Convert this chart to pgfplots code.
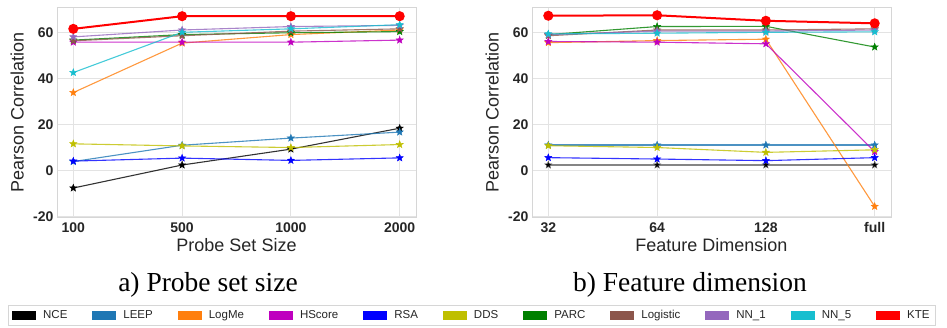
\documentclass[border=0pt]{standalone}
\usepackage{pgfplots}
\usepackage{pgfplotstable}
\pgfplotsset{compat=1.18}
\usepackage{fontspec}
\setmainfont{Liberation Sans}
\newfontfamily\capfont{Liberation Serif}

\definecolor{cNCE}{HTML}{000000}
\definecolor{cLEEP}{HTML}{1F77B4}
\definecolor{cLogMe}{HTML}{FF7F0E}
\definecolor{cHScore}{HTML}{BF00BF}
\definecolor{cRSA}{HTML}{0000FF}
\definecolor{cDDS}{HTML}{BFBF00}
\definecolor{cPARC}{HTML}{008000}
\definecolor{cLogistic}{HTML}{8C564B}
\definecolor{cNNa}{HTML}{9467BD}
\definecolor{cNNb}{HTML}{17BECF}
\definecolor{cKTE}{HTML}{FF0000}
\definecolor{gridc}{HTML}{E3E3E3}
\definecolor{framec}{HTML}{D6D6D6}
\definecolor{labc}{HTML}{262626}

\pgfdeclareplotmark{fstar}{%
  \pgfpathmoveto{\pgfpointpolar{90}{\pgfplotmarksize}}%
  \pgfpathlineto{\pgfpointpolar{126}{0.42\pgfplotmarksize}}%
  \pgfpathlineto{\pgfpointpolar{162}{\pgfplotmarksize}}%
  \pgfpathlineto{\pgfpointpolar{198}{0.42\pgfplotmarksize}}%
  \pgfpathlineto{\pgfpointpolar{234}{\pgfplotmarksize}}%
  \pgfpathlineto{\pgfpointpolar{270}{0.42\pgfplotmarksize}}%
  \pgfpathlineto{\pgfpointpolar{306}{\pgfplotmarksize}}%
  \pgfpathlineto{\pgfpointpolar{342}{0.42\pgfplotmarksize}}%
  \pgfpathlineto{\pgfpointpolar{18}{\pgfplotmarksize}}%
  \pgfpathlineto{\pgfpointpolar{54}{0.42\pgfplotmarksize}}%
  \pgfpathclose
  \pgfusepathqfillstroke
}

\pgfplotstableread{
x NCE LEEP LogMe HScore RSA DDS PARC Logistic NNa NNb KTE
0 -7.7 3.8 33.8 55.7 4.0 11.5 56.6 56.3 58.0 42.5 61.5
1 2.3 10.9 55.3 55.7 5.3 10.6 59.0 58.5 61.0 60.0 67.0
2 9.2 14.0 59.0 55.7 4.3 9.9 59.8 60.5 62.5 61.5 67.0
3 18.3 16.6 61.0 56.6 5.4 11.2 60.3 61.5 63.0 63.3 67.0
}\probetable

\pgfplotstableread{
x NCE LEEP LogMe HScore RSA DDS PARC Logistic NNa NNb KTE
0 2.3 11.0 55.5 56.0 5.5 10.7 59.0 58.5 59.0 59.3 67.2
1 2.3 11.0 56.4 55.7 4.9 9.9 62.5 61.0 60.5 59.6 67.4
2 2.3 11.0 57.0 55.0 4.2 7.8 62.6 61.0 60.5 60.0 65.0
3 2.3 11.0 -15.7 8.1 5.5 8.9 53.6 61.5 61.0 60.2 63.9
}\dimtable

\pgfplotsset{
  panel/.style={
    width=359pt, height=210pt, scale only axis,
    xmin=-0.15, xmax=3.15, ymin=-20.3, ymax=71,
    xtick={0,1,2,3}, ytick={-20,0,20,40,60},
    grid=major, major grid style={color=gridc, line width=0.8pt},
    axis line style={color=framec, line width=0.8pt},
    tick style={draw=none},
    ticklabel style={font=\fontsize{14}{16}\selectfont\bfseries, text=labc},
    /pgf/number format/assume math mode=true,
    label style={font=\fontsize{18}{20}\selectfont, text=labc},
    ylabel style={at={(axis description cs:-0.111,0.5)}, anchor=center},
    xlabel style={at={(axis description cs:0.5,-0.133)}, anchor=center},
    xticklabel style={yshift=-2pt},
    ylabel={Pearson Correlation},
    legend image code/.code={\pgfsetcornersarced{\pgfpointorigin}\fill[#1, draw=none] (0pt,-4.5pt) rectangle (24pt,4.5pt);},
  },
  sline/.style={color=#1, line width=1.1pt, draw opacity=0.8, mark=fstar, mark size=3.8pt,
     mark options={draw opacity=1, fill opacity=1, line width=0.4pt}},
}

\begin{document}
\begin{tikzpicture}
\useasboundingbox (0pt,0pt) rectangle (947pt,328pt);

\begin{axis}[panel, at={(57pt,111pt)}, anchor=south west,
  xticklabels={100,500,1000,2000}, xlabel={Probe Set Size}]
\addplot[sline=cNCE] table[x=x,y=NCE] {\probetable};
\addplot[sline=cLEEP] table[x=x,y=LEEP] {\probetable};
\addplot[sline=cLogMe] table[x=x,y=LogMe] {\probetable};
\addplot[sline=cHScore] table[x=x,y=HScore] {\probetable};
\addplot[sline=cRSA] table[x=x,y=RSA] {\probetable};
\addplot[sline=cDDS] table[x=x,y=DDS] {\probetable};
\addplot[sline=cPARC] table[x=x,y=PARC] {\probetable};
\addplot[sline=cLogistic] table[x=x,y=Logistic] {\probetable};
\addplot[sline=cNNa] table[x=x,y=NNa] {\probetable};
\addplot[sline=cNNb] table[x=x,y=NNb] {\probetable};
\addplot[color=cKTE, line width=2pt, mark=*, mark size=4pt] table[x=x,y=KTE] {\probetable};
\end{axis}

\begin{axis}[panel, at={(532pt,111pt)}, anchor=south west,
  xticklabels={32,64,128,full}, xlabel={Feature Dimension},
  legend columns=11,
  legend style={at={(axis description cs:-1.46,-0.419)}, anchor=north west,
    draw=framec, line width=0.6pt,
    font=\fontsize{11.5}{13}\selectfont, text=labc,
    inner xsep=4pt, inner ysep=3pt,
    /tikz/every odd column/.append style={column sep=5pt},
    /tikz/every even column/.append style={column sep=23pt}},
  legend cell align=left]
\addplot[sline=cNCE, line width=1.8pt, draw=black!60] table[x=x,y=NCE] {\dimtable};
\addlegendentry{NCE}
\addplot[sline=cLEEP, line width=1.5pt] table[x=x,y=LEEP] {\dimtable};
\addlegendentry{LEEP}
\addplot[sline=cLogMe] table[x=x,y=LogMe] {\dimtable};
\addlegendentry{LogMe}
\addplot[sline=cHScore] table[x=x,y=HScore] {\dimtable};
\addlegendentry{HScore}
\addplot[sline=cRSA] table[x=x,y=RSA] {\dimtable};
\addlegendentry{RSA}
\addplot[sline=cDDS] table[x=x,y=DDS] {\dimtable};
\addlegendentry{DDS}
\addplot[sline=cPARC] table[x=x,y=PARC] {\dimtable};
\addlegendentry{PARC}
\addplot[sline=cLogistic] table[x=x,y=Logistic] {\dimtable};
\addlegendentry{Logistic}
\addplot[sline=cNNa] table[x=x,y=NNa] {\dimtable};
\addlegendentry{NN\_1}
\addplot[sline=cNNb] table[x=x,y=NNb] {\dimtable};
\addlegendentry{NN\_5}
\addplot[color=cKTE, line width=2pt, mark=*, mark size=4pt] table[x=x,y=KTE] {\dimtable};
\addlegendentry{KTE}
\end{axis}

\node[font=\capfont\fontsize{27.5}{30}\selectfont, text=black] at (208pt,43pt) {a) Probe set size};
\node[font=\capfont\fontsize{27.5}{30}\selectfont, text=black] at (690pt,43pt) {b) Feature dimension};
\end{tikzpicture}
\end{document}
